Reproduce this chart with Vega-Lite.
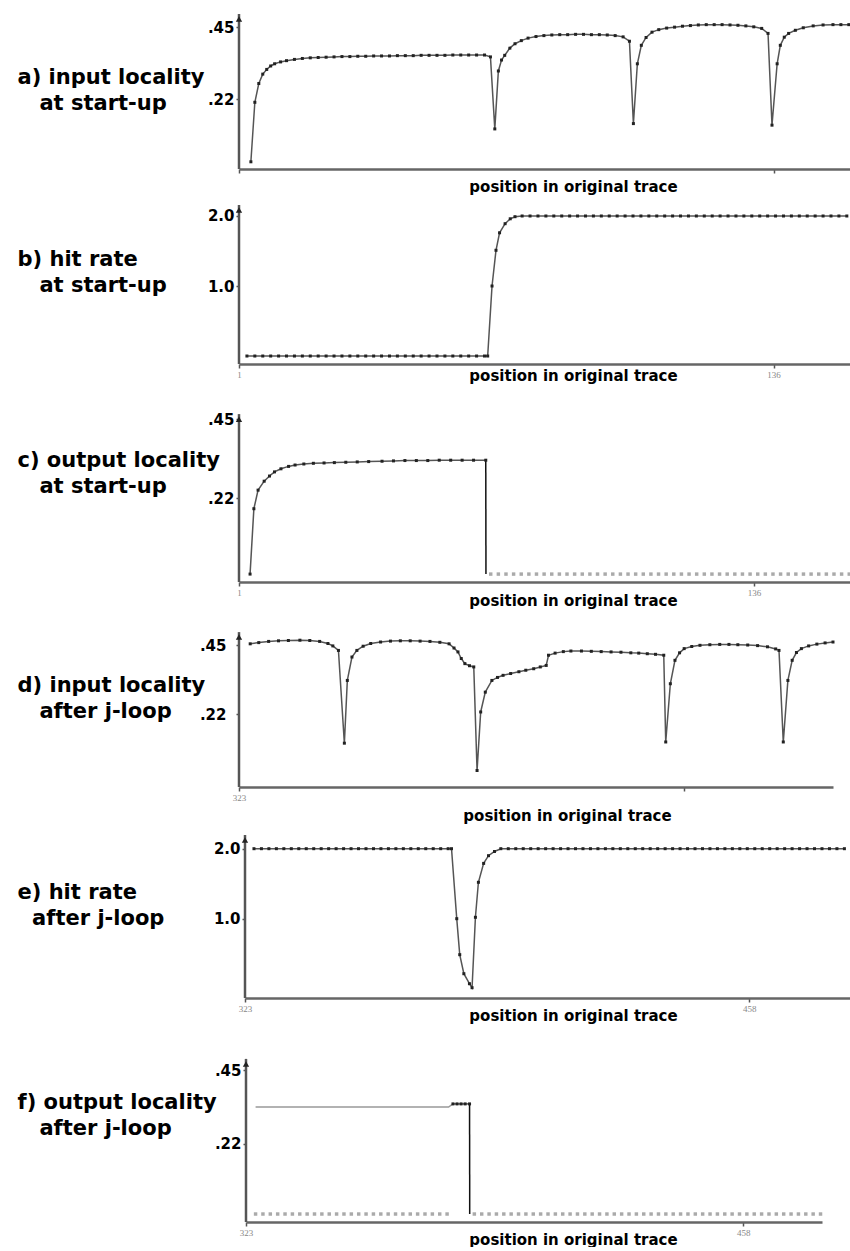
{
  "$schema": "https://vega.github.io/schema/vega-lite/v6.json",
  "padding": {"left": 17, "top": 12, "right": 0, "bottom": 0},
  "background": "white",
  "spacing": 36,
  "bounds": "flush",
  "resolve": {"scale": {"x": "independent", "y": "independent", "color": "independent"}},
  "config": {
    "view": {"stroke": null},
    "font": "DejaVu Sans",
    "axis": {"grid": false, "labelOverlap": false, "labelFlush": false},
    "axisX": {
      "domainColor": "#666", "domainWidth": 2.5,
      "tickColor": "#555", "tickSize": 4, "tickWidth": 1.5,
      "labelFont": "Liberation Serif", "labelFontSize": 9, "labelColor": "#888", "labelPadding": 2,
      "titleFont": "DejaVu Sans", "titleFontSize": 15, "titleFontWeight": "bold", "titleColor": "#000",
      "titleAlign": "center", "titleBaseline": "middle", "titleX": 334
    },
    "axisY": {
      "domain": false,
      "tickColor": "#555", "tickSize": 3, "tickWidth": 1.5,
      "labelFont": "DejaVu Sans", "labelFontSize": 15, "labelFontWeight": "bold", "labelColor": "#000", "labelPadding": 2,
      "titleAngle": 0, "titleAlign": "left", "titleBaseline": "middle",
      "titleFont": "DejaVu Sans", "titleFontSize": 21, "titleFontWeight": "bold", "titleColor": "#000",
      "titleLineHeight": 26, "titleX": -222
    }
  },
  "datasets": {
    "a": [
      {"x":4,"v":0.02,"s":"m"},{"x":5,"v":0.21,"s":"m"},{"x":6,"v":0.27,"s":"m"},{"x":7,"v":0.30,"s":"m"},
      {"x":8,"v":0.315,"s":"m"},{"x":9,"v":0.326,"s":"m"},{"x":10,"v":0.333,"s":"m"},{"x":11.5,"v":0.339,"s":"m"},
      {"x":13,"v":0.343,"s":"m"},{"x":15,"v":0.347,"s":"m"},{"x":17,"v":0.35,"s":"m"},{"x":19,"v":0.352,"s":"m"},
      {"x":21,"v":0.353,"s":"m"},{"x":23,"v":0.354,"s":"m"},{"x":25,"v":0.355,"s":"m"},{"x":27,"v":0.356,"s":"m"},
      {"x":29,"v":0.356,"s":"m"},{"x":31,"v":0.357,"s":"m"},{"x":33,"v":0.357,"s":"m"},{"x":35,"v":0.358,"s":"m"},
      {"x":37,"v":0.358,"s":"m"},{"x":39,"v":0.358,"s":"m"},{"x":41,"v":0.359,"s":"m"},{"x":43,"v":0.359,"s":"m"},
      {"x":45,"v":0.359,"s":"m"},{"x":47,"v":0.36,"s":"m"},{"x":49,"v":0.36,"s":"m"},{"x":51,"v":0.36,"s":"m"},
      {"x":53,"v":0.36,"s":"m"},{"x":55,"v":0.361,"s":"m"},{"x":57,"v":0.361,"s":"m"},{"x":59,"v":0.361,"s":"m"},
      {"x":61,"v":0.361,"s":"m"},{"x":63,"v":0.361,"s":"m"},{"x":64.5,"v":0.355,"s":"m"},{"x":65.6,"v":0.125,"s":"m"},
      {"x":66.5,"v":0.31,"s":"m"},{"x":67.3,"v":0.345,"s":"m"},{"x":68.1,"v":0.36,"s":"m"},{"x":69.4,"v":0.383,"s":"m"},
      {"x":70.7,"v":0.397,"s":"m"},{"x":72.3,"v":0.407,"s":"m"},{"x":74,"v":0.415,"s":"m"},{"x":76,"v":0.42,"s":"m"},
      {"x":78,"v":0.423,"s":"m"},{"x":80,"v":0.425,"s":"m"},{"x":82,"v":0.426,"s":"m"},{"x":84,"v":0.426,"s":"m"},
      {"x":86,"v":0.427,"s":"m"},{"x":88,"v":0.427,"s":"m"},{"x":90,"v":0.426,"s":"m"},{"x":92,"v":0.426,"s":"m"},
      {"x":94,"v":0.425,"s":"m"},{"x":96,"v":0.423,"s":"m"},{"x":98,"v":0.419,"s":"m"},{"x":99.6,"v":0.405,"s":"m"},
      {"x":100.6,"v":0.142,"s":"m"},{"x":101.6,"v":0.333,"s":"m"},{"x":102.6,"v":0.392,"s":"m"},{"x":103.8,"v":0.417,"s":"m"},
      {"x":105.3,"v":0.434,"s":"m"},{"x":107,"v":0.442,"s":"m"},{"x":109,"v":0.447,"s":"m"},{"x":111,"v":0.45,"s":"m"},
      {"x":113,"v":0.453,"s":"m"},{"x":115,"v":0.455,"s":"m"},{"x":117,"v":0.457,"s":"m"},{"x":119,"v":0.458,"s":"m"},
      {"x":121,"v":0.458,"s":"m"},{"x":123,"v":0.458,"s":"m"},{"x":125,"v":0.457,"s":"m"},{"x":127,"v":0.456,"s":"m"},
      {"x":129,"v":0.454,"s":"m"},{"x":131,"v":0.451,"s":"m"},{"x":133,"v":0.446,"s":"m"},{"x":134.6,"v":0.43,"s":"m"},
      {"x":135.6,"v":0.137,"s":"m"},{"x":136.9,"v":0.333,"s":"m"},{"x":137.7,"v":0.392,"s":"m"},{"x":138.7,"v":0.418,"s":"m"},
      {"x":139.8,"v":0.43,"s":"m"},{"x":141.5,"v":0.44,"s":"m"},{"x":143.5,"v":0.448,"s":"m"},{"x":146,"v":0.454,"s":"m"},
      {"x":148.5,"v":0.457,"s":"m"},{"x":151,"v":0.458,"s":"m"},{"x":153,"v":0.458,"s":"m"},{"x":155,"v":0.458,"s":"m"}
    ],
    "b": [
      {"x":3,"v":0,"s":"m"},{"x":5,"v":0,"s":"m"},{"x":7,"v":0,"s":"m"},{"x":9,"v":0,"s":"m"},{"x":11,"v":0,"s":"m"},
      {"x":13,"v":0,"s":"m"},{"x":15,"v":0,"s":"m"},{"x":17,"v":0,"s":"m"},{"x":19,"v":0,"s":"m"},{"x":21,"v":0,"s":"m"},
      {"x":23,"v":0,"s":"m"},{"x":25,"v":0,"s":"m"},{"x":27,"v":0,"s":"m"},{"x":29,"v":0,"s":"m"},{"x":31,"v":0,"s":"m"},
      {"x":33,"v":0,"s":"m"},{"x":35,"v":0,"s":"m"},{"x":37,"v":0,"s":"m"},{"x":39,"v":0,"s":"m"},{"x":41,"v":0,"s":"m"},
      {"x":43,"v":0,"s":"m"},{"x":45,"v":0,"s":"m"},{"x":47,"v":0,"s":"m"},{"x":49,"v":0,"s":"m"},{"x":51,"v":0,"s":"m"},
      {"x":53,"v":0,"s":"m"},{"x":55,"v":0,"s":"m"},{"x":57,"v":0,"s":"m"},{"x":59,"v":0,"s":"m"},{"x":61,"v":0,"s":"m"},
      {"x":63,"v":0,"s":"m"},{"x":63.8,"v":0,"s":"m"},{"x":64.9,"v":1.0,"s":"m"},{"x":65.9,"v":1.51,"s":"m"},
      {"x":66.8,"v":1.76,"s":"m"},{"x":68.2,"v":1.89,"s":"m"},{"x":69.5,"v":1.96,"s":"m"},{"x":70.7,"v":1.99,"s":"m"},
      {"x":72.5,"v":2.0,"s":"m"},{"x":74.5,"v":2.0,"s":"m"},{"x":76.5,"v":2.0,"s":"m"},{"x":78.5,"v":2.0,"s":"m"},
      {"x":80.5,"v":2.0,"s":"m"},{"x":82.5,"v":2.0,"s":"m"},{"x":84.5,"v":2.0,"s":"m"},{"x":86.5,"v":2.0,"s":"m"},
      {"x":88.5,"v":2.0,"s":"m"},{"x":90.5,"v":2.0,"s":"m"},{"x":92.5,"v":2.0,"s":"m"},{"x":94.5,"v":2.0,"s":"m"},
      {"x":96.5,"v":2.0,"s":"m"},{"x":98.5,"v":2.0,"s":"m"},{"x":100.5,"v":2.0,"s":"m"},{"x":102.5,"v":2.0,"s":"m"},
      {"x":104.5,"v":2.0,"s":"m"},{"x":106.5,"v":2.0,"s":"m"},{"x":108.5,"v":2.0,"s":"m"},{"x":110.5,"v":2.0,"s":"m"},
      {"x":112.5,"v":2.0,"s":"m"},{"x":114.5,"v":2.0,"s":"m"},{"x":116.5,"v":2.0,"s":"m"},{"x":118.5,"v":2.0,"s":"m"},
      {"x":120.5,"v":2.0,"s":"m"},{"x":122.5,"v":2.0,"s":"m"},{"x":124.5,"v":2.0,"s":"m"},{"x":126.5,"v":2.0,"s":"m"},
      {"x":128.5,"v":2.0,"s":"m"},{"x":130.5,"v":2.0,"s":"m"},{"x":132.5,"v":2.0,"s":"m"},{"x":134.5,"v":2.0,"s":"m"},
      {"x":136.5,"v":2.0,"s":"m"},{"x":138.5,"v":2.0,"s":"m"},{"x":140.5,"v":2.0,"s":"m"},{"x":142.5,"v":2.0,"s":"m"},
      {"x":144.5,"v":2.0,"s":"m"},{"x":146.5,"v":2.0,"s":"m"},{"x":148.5,"v":2.0,"s":"m"},{"x":150.5,"v":2.0,"s":"m"},
      {"x":152.5,"v":2.0,"s":"m"},{"x":154.5,"v":2.0,"s":"m"}
    ],
    "c": [
      {"x":3.9,"v":0,"s":"m"},{"x":4.9,"v":0.19,"s":"m"},{"x":6,"v":0.244,"s":"m"},{"x":7.6,"v":0.27,"s":"m"},
      {"x":9,"v":0.285,"s":"m"},{"x":10.3,"v":0.297,"s":"m"},{"x":12,"v":0.306,"s":"m"},{"x":14,"v":0.313,"s":"m"},
      {"x":15.7,"v":0.317,"s":"m"},{"x":18,"v":0.32,"s":"m"},{"x":20.5,"v":0.322,"s":"m"},{"x":23.3,"v":0.323,"s":"m"},
      {"x":26,"v":0.324,"s":"m"},{"x":29,"v":0.325,"s":"m"},{"x":32,"v":0.326,"s":"m"},{"x":35,"v":0.327,"s":"m"},
      {"x":38.5,"v":0.328,"s":"m"},{"x":41.5,"v":0.329,"s":"m"},{"x":44.5,"v":0.33,"s":"m"},{"x":47.5,"v":0.33,"s":"m"},
      {"x":50.5,"v":0.33,"s":"m"},{"x":53.5,"v":0.331,"s":"m"},{"x":56.5,"v":0.331,"s":"m"},{"x":59.5,"v":0.331,"s":"m"},
      {"x":62.5,"v":0.331,"s":"m"},{"x":65.7,"v":0.331,"s":"m"},
      {"x":65.7,"v":0.331,"s":"d"},{"x":65.75,"v":0,"s":"d"},
      {"x":67,"v":0,"s":"z"},{"x":69,"v":0,"s":"z"},{"x":71,"v":0,"s":"z"},{"x":73,"v":0,"s":"z"},{"x":75,"v":0,"s":"z"},
      {"x":77,"v":0,"s":"z"},{"x":79,"v":0,"s":"z"},{"x":81,"v":0,"s":"z"},{"x":83,"v":0,"s":"z"},{"x":85,"v":0,"s":"z"},
      {"x":87,"v":0,"s":"z"},{"x":89,"v":0,"s":"z"},{"x":91,"v":0,"s":"z"},{"x":93,"v":0,"s":"z"},{"x":95,"v":0,"s":"z"},
      {"x":97,"v":0,"s":"z"},{"x":99,"v":0,"s":"z"},{"x":101,"v":0,"s":"z"},{"x":103,"v":0,"s":"z"},{"x":105,"v":0,"s":"z"},
      {"x":107,"v":0,"s":"z"},{"x":109,"v":0,"s":"z"},{"x":111,"v":0,"s":"z"},{"x":113,"v":0,"s":"z"},{"x":115,"v":0,"s":"z"},
      {"x":117,"v":0,"s":"z"},{"x":119,"v":0,"s":"z"},{"x":121,"v":0,"s":"z"},{"x":123,"v":0,"s":"z"},{"x":125,"v":0,"s":"z"},
      {"x":127,"v":0,"s":"z"},{"x":129,"v":0,"s":"z"},{"x":131,"v":0,"s":"z"},{"x":133,"v":0,"s":"z"},{"x":135,"v":0,"s":"z"},
      {"x":137,"v":0,"s":"z"},{"x":139,"v":0,"s":"z"},{"x":141,"v":0,"s":"z"},{"x":143,"v":0,"s":"z"},{"x":145,"v":0,"s":"z"},
      {"x":147,"v":0,"s":"z"},{"x":149,"v":0,"s":"z"},{"x":151,"v":0,"s":"z"},{"x":153,"v":0,"s":"z"},{"x":155,"v":0,"s":"z"},
      {"x":157,"v":0,"s":"z"},{"x":159,"v":0,"s":"z"},{"x":161,"v":0,"s":"z"}
    ],
    "d": [
      {"x":326.4,"v":0.454,"s":"m"},{"x":329,"v":0.458,"s":"m"},{"x":332,"v":0.462,"s":"m"},{"x":335,"v":0.464,"s":"m"},
      {"x":338,"v":0.465,"s":"m"},{"x":341.5,"v":0.466,"s":"m"},{"x":344.5,"v":0.465,"s":"m"},{"x":347.5,"v":0.462,"s":"m"},
      {"x":350,"v":0.455,"s":"m"},{"x":351.5,"v":0.447,"s":"m"},{"x":353.2,"v":0.432,"s":"m"},{"x":355,"v":0.123,"s":"m"},
      {"x":355.9,"v":0.332,"s":"m"},{"x":357.3,"v":0.41,"s":"m"},{"x":358.8,"v":0.432,"s":"m"},{"x":360.7,"v":0.446,"s":"m"},
      {"x":363,"v":0.455,"s":"m"},{"x":366,"v":0.46,"s":"m"},{"x":369,"v":0.463,"s":"m"},{"x":372,"v":0.464,"s":"m"},
      {"x":375,"v":0.464,"s":"m"},{"x":378,"v":0.463,"s":"m"},{"x":381,"v":0.462,"s":"m"},{"x":384,"v":0.459,"s":"m"},
      {"x":386.8,"v":0.454,"s":"m"},{"x":388.3,"v":0.44,"s":"m"},{"x":389.5,"v":0.427,"s":"m"},{"x":390.5,"v":0.405,"s":"m"},
      {"x":391.6,"v":0.388,"s":"m"},{"x":393,"v":0.381,"s":"m"},{"x":394.3,"v":0.377,"s":"m"},{"x":395.3,"v":0.032,"s":"m"},
      {"x":396.4,"v":0.227,"s":"m"},{"x":397.8,"v":0.293,"s":"m"},{"x":399.8,"v":0.332,"s":"m"},{"x":401.5,"v":0.342,"s":"m"},
      {"x":403.2,"v":0.349,"s":"m"},{"x":405.5,"v":0.355,"s":"m"},{"x":408,"v":0.361,"s":"m"},{"x":410.1,"v":0.366,"s":"m"},
      {"x":412.5,"v":0.371,"s":"m"},{"x":414.5,"v":0.377,"s":"m"},{"x":416.3,"v":0.382,"s":"m"},{"x":417,"v":0.416,"s":"m"},
      {"x":419,"v":0.423,"s":"m"},{"x":421.5,"v":0.428,"s":"m"},{"x":423.8,"v":0.43,"s":"m"},{"x":427,"v":0.43,"s":"m"},
      {"x":430,"v":0.429,"s":"m"},{"x":433,"v":0.428,"s":"m"},{"x":436,"v":0.427,"s":"m"},{"x":439,"v":0.426,"s":"m"},
      {"x":442,"v":0.424,"s":"m"},{"x":444.4,"v":0.423,"s":"m"},{"x":447,"v":0.421,"s":"m"},{"x":449.5,"v":0.419,"s":"m"},
      {"x":452,"v":0.416,"s":"m"},{"x":452.6,"v":0.127,"s":"m"},{"x":454,"v":0.321,"s":"m"},{"x":455.4,"v":0.399,"s":"m"},
      {"x":456.8,"v":0.424,"s":"m"},{"x":458.2,"v":0.438,"s":"m"},{"x":460.5,"v":0.445,"s":"m"},{"x":463,"v":0.449,"s":"m"},
      {"x":466,"v":0.451,"s":"m"},{"x":469,"v":0.452,"s":"m"},{"x":471.8,"v":0.452,"s":"m"},{"x":474.5,"v":0.451,"s":"m"},
      {"x":477.5,"v":0.45,"s":"m"},{"x":480.5,"v":0.448,"s":"m"},{"x":483.5,"v":0.444,"s":"m"},{"x":486,"v":0.437,"s":"m"},
      {"x":487,"v":0.432,"s":"m"},{"x":488.3,"v":0.127,"s":"m"},{"x":489.7,"v":0.332,"s":"m"},{"x":491,"v":0.399,"s":"m"},
      {"x":492.3,"v":0.425,"s":"m"},{"x":493.8,"v":0.438,"s":"m"},{"x":496,"v":0.447,"s":"m"},{"x":498.5,"v":0.453,"s":"m"},
      {"x":501,"v":0.457,"s":"m"},{"x":503.4,"v":0.46,"s":"m"}
    ],
    "e": [
      {"x":325.4,"v":2,"s":"m"},{"x":327.4,"v":2,"s":"m"},{"x":329.4,"v":2,"s":"m"},{"x":331.4,"v":2,"s":"m"},
      {"x":333.4,"v":2,"s":"m"},{"x":335.4,"v":2,"s":"m"},{"x":337.4,"v":2,"s":"m"},{"x":339.4,"v":2,"s":"m"},
      {"x":341.4,"v":2,"s":"m"},{"x":343.4,"v":2,"s":"m"},{"x":345.4,"v":2,"s":"m"},{"x":347.4,"v":2,"s":"m"},
      {"x":349.4,"v":2,"s":"m"},{"x":351.4,"v":2,"s":"m"},{"x":353.4,"v":2,"s":"m"},{"x":355.4,"v":2,"s":"m"},
      {"x":357.4,"v":2,"s":"m"},{"x":359.4,"v":2,"s":"m"},{"x":361.4,"v":2,"s":"m"},{"x":363.4,"v":2,"s":"m"},
      {"x":365.4,"v":2,"s":"m"},{"x":367.4,"v":2,"s":"m"},{"x":369.4,"v":2,"s":"m"},{"x":371.4,"v":2,"s":"m"},
      {"x":373.4,"v":2,"s":"m"},{"x":375.4,"v":2,"s":"m"},{"x":377.4,"v":2,"s":"m"},{"x":378.3,"v":2,"s":"m"},
      {"x":379.7,"v":1.0,"s":"m"},{"x":380.5,"v":0.486,"s":"m"},{"x":381.6,"v":0.214,"s":"m"},{"x":383.1,"v":0.071,"s":"m"},
      {"x":383.8,"v":0.014,"s":"m"},{"x":384.7,"v":1.02,"s":"m"},{"x":385.5,"v":1.52,"s":"m"},{"x":386.9,"v":1.79,"s":"m"},
      {"x":388.2,"v":1.9,"s":"m"},{"x":389.8,"v":1.96,"s":"m"},{"x":391.5,"v":2,"s":"m"},{"x":393.5,"v":2,"s":"m"},
      {"x":395.5,"v":2,"s":"m"},{"x":397.5,"v":2,"s":"m"},{"x":399.5,"v":2,"s":"m"},{"x":401.5,"v":2,"s":"m"},
      {"x":403.5,"v":2,"s":"m"},{"x":405.5,"v":2,"s":"m"},{"x":407.5,"v":2,"s":"m"},{"x":409.5,"v":2,"s":"m"},
      {"x":411.5,"v":2,"s":"m"},{"x":413.5,"v":2,"s":"m"},{"x":415.5,"v":2,"s":"m"},{"x":417.5,"v":2,"s":"m"},
      {"x":419.5,"v":2,"s":"m"},{"x":421.5,"v":2,"s":"m"},{"x":423.5,"v":2,"s":"m"},{"x":425.5,"v":2,"s":"m"},
      {"x":427.5,"v":2,"s":"m"},{"x":429.5,"v":2,"s":"m"},{"x":431.5,"v":2,"s":"m"},{"x":433.5,"v":2,"s":"m"},
      {"x":435.5,"v":2,"s":"m"},{"x":437.5,"v":2,"s":"m"},{"x":439.5,"v":2,"s":"m"},{"x":441.5,"v":2,"s":"m"},
      {"x":443.5,"v":2,"s":"m"},{"x":445.5,"v":2,"s":"m"},{"x":447.5,"v":2,"s":"m"},{"x":449.5,"v":2,"s":"m"},
      {"x":451.5,"v":2,"s":"m"},{"x":453.5,"v":2,"s":"m"},{"x":455.5,"v":2,"s":"m"},{"x":457.5,"v":2,"s":"m"},
      {"x":459.5,"v":2,"s":"m"},{"x":461.5,"v":2,"s":"m"},{"x":463.5,"v":2,"s":"m"},{"x":465.5,"v":2,"s":"m"},
      {"x":467.5,"v":2,"s":"m"},{"x":469.5,"v":2,"s":"m"},{"x":471.5,"v":2,"s":"m"},{"x":473.5,"v":2,"s":"m"},
      {"x":475.5,"v":2,"s":"m"},{"x":477.5,"v":2,"s":"m"},{"x":479.5,"v":2,"s":"m"},{"x":481.5,"v":2,"s":"m"},
      {"x":483.5,"v":2,"s":"m"}
    ],
    "f": [
      {"x":325.6,"v":0.335,"s":"p"},{"x":378,"v":0.335,"s":"p"},{"x":379.2,"v":0.345,"s":"p"},
      {"x":379.2,"v":0.345,"s":"m"},{"x":380.3,"v":0.345,"s":"m"},{"x":381.4,"v":0.345,"s":"m"},{"x":382.5,"v":0.345,"s":"m"},{"x":383.7,"v":0.345,"s":"m"},
      {"x":383.7,"v":0.345,"s":"d"},{"x":383.75,"v":0,"s":"d"},
      {"x":325.6,"v":0,"s":"z"},{"x":327.6,"v":0,"s":"z"},{"x":329.6,"v":0,"s":"z"},{"x":331.6,"v":0,"s":"z"},
      {"x":333.6,"v":0,"s":"z"},{"x":335.6,"v":0,"s":"z"},{"x":337.6,"v":0,"s":"z"},{"x":339.6,"v":0,"s":"z"},
      {"x":341.6,"v":0,"s":"z"},{"x":343.6,"v":0,"s":"z"},{"x":345.6,"v":0,"s":"z"},{"x":347.6,"v":0,"s":"z"},
      {"x":349.6,"v":0,"s":"z"},{"x":351.6,"v":0,"s":"z"},{"x":353.6,"v":0,"s":"z"},{"x":355.6,"v":0,"s":"z"},
      {"x":357.6,"v":0,"s":"z"},{"x":359.6,"v":0,"s":"z"},{"x":361.6,"v":0,"s":"z"},{"x":363.6,"v":0,"s":"z"},
      {"x":365.6,"v":0,"s":"z"},{"x":367.6,"v":0,"s":"z"},{"x":369.6,"v":0,"s":"z"},{"x":371.6,"v":0,"s":"z"},
      {"x":373.6,"v":0,"s":"z"},{"x":375.6,"v":0,"s":"z"},{"x":377.6,"v":0,"s":"z"},
      {"x":385,"v":0,"s":"z"},{"x":387,"v":0,"s":"z"},{"x":389,"v":0,"s":"z"},{"x":391,"v":0,"s":"z"},{"x":393,"v":0,"s":"z"},
      {"x":395,"v":0,"s":"z"},{"x":397,"v":0,"s":"z"},{"x":399,"v":0,"s":"z"},{"x":401,"v":0,"s":"z"},{"x":403,"v":0,"s":"z"},
      {"x":405,"v":0,"s":"z"},{"x":407,"v":0,"s":"z"},{"x":409,"v":0,"s":"z"},{"x":411,"v":0,"s":"z"},{"x":413,"v":0,"s":"z"},
      {"x":415,"v":0,"s":"z"},{"x":417,"v":0,"s":"z"},{"x":419,"v":0,"s":"z"},{"x":421,"v":0,"s":"z"},{"x":423,"v":0,"s":"z"},
      {"x":425,"v":0,"s":"z"},{"x":427,"v":0,"s":"z"},{"x":429,"v":0,"s":"z"},{"x":431,"v":0,"s":"z"},{"x":433,"v":0,"s":"z"},
      {"x":435,"v":0,"s":"z"},{"x":437,"v":0,"s":"z"},{"x":439,"v":0,"s":"z"},{"x":441,"v":0,"s":"z"},{"x":443,"v":0,"s":"z"},
      {"x":445,"v":0,"s":"z"},{"x":447,"v":0,"s":"z"},{"x":449,"v":0,"s":"z"},{"x":451,"v":0,"s":"z"},{"x":453,"v":0,"s":"z"},
      {"x":455,"v":0,"s":"z"},{"x":457,"v":0,"s":"z"},{"x":459,"v":0,"s":"z"},{"x":461,"v":0,"s":"z"},{"x":463,"v":0,"s":"z"},
      {"x":465,"v":0,"s":"z"},{"x":467,"v":0,"s":"z"},{"x":469,"v":0,"s":"z"},{"x":471,"v":0,"s":"z"},{"x":473,"v":0,"s":"z"},
      {"x":475,"v":0,"s":"z"},{"x":477,"v":0,"s":"z"},{"x":479,"v":0,"s":"z"}
    ]
  },
  "vconcat": [
    {
      "width": 611, "height": 155,
      "layer": [
        {"data": {"values": [{"k": 1}]}, "mark": {"type": "rule", "color": "#555", "strokeWidth": 2.5},
         "encoding": {"x": {"datum": 1, "type": "quantitative", "scale": {"domain": [1, 155.3], "nice": false, "zero": false}},
                      "y": {"datum": -0.003, "type": "quantitative", "scale": {"domain": [-0.003, 0.492], "nice": false, "zero": false}},
                      "y2": {"datum": 0.492}}},
        {"data": {"values": [{"k": 1}]}, "mark": {"type": "point", "shape": "triangle-up", "filled": true, "size": 40, "color": "#222", "opacity": 1},
         "encoding": {"x": {"datum": 1, "type": "quantitative", "scale": {"domain": [1, 155.3], "nice": false, "zero": false}},
                      "y": {"datum": 0.476, "type": "quantitative", "scale": {"domain": [-0.003, 0.492], "nice": false, "zero": false}}}},
        {
          "data": {"name": "a"},
          "encoding": {
            "x": {"field": "x", "type": "quantitative", "scale": {"domain": [1, 155.3], "nice": false, "zero": false},
                  "axis": {"values": [1, 136], "labels": false, "title": "position in original trace", "titleY": 17}},
            "y": {"field": "v", "type": "quantitative", "scale": {"domain": [-0.003, 0.492], "nice": false, "zero": false},
                  "axis": {"values": [0.22, 0.45], "labelExpr": "replace(format(datum.value, '.2f'), '0.', '.')",
                           "title": ["a) input locality", "\u200b\u00a0\u00a0\u00a0at start-up"], "titleY": 63}}
          },
          "layer": [
            {"transform": [{"filter": "datum.s != 'z'"}], "mark": {"type": "line", "strokeWidth": 1.5},
             "encoding": {"color": {"field": "s", "type": "nominal", "scale": {"domain": ["m", "p", "d"], "range": ["#555", "#999", "#111"]}, "legend": null}}},
            {"transform": [{"filter": "datum.s == 'm'"}], "mark": {"type": "point", "shape": "square", "filled": true, "size": 9, "color": "#222", "opacity": 1}, "encoding": {}},
            {"transform": [{"filter": "datum.s == 'z'"}], "mark": {"type": "point", "shape": "square", "filled": true, "size": 12, "color": "#aaa", "opacity": 1}, "encoding": {}}
          ]
        }
      ]
    },
    {
      "width": 611, "height": 159,
      "layer": [
        {"data": {"values": [{"k": 1}]}, "mark": {"type": "rule", "color": "#555", "strokeWidth": 2.5},
         "encoding": {"x": {"datum": 1, "type": "quantitative", "scale": {"domain": [1, 155.3], "nice": false, "zero": false}},
                      "y": {"datum": -0.114, "type": "quantitative", "scale": {"domain": [-0.114, 2.157], "nice": false, "zero": false}},
                      "y2": {"datum": 2.157}}},
        {"data": {"values": [{"k": 1}]}, "mark": {"type": "point", "shape": "triangle-up", "filled": true, "size": 40, "color": "#222", "opacity": 1},
         "encoding": {"x": {"datum": 1, "type": "quantitative", "scale": {"domain": [1, 155.3], "nice": false, "zero": false}},
                      "y": {"datum": 2.086, "type": "quantitative", "scale": {"domain": [-0.114, 2.157], "nice": false, "zero": false}}}},
        {
          "data": {"name": "b"},
          "encoding": {
            "x": {"field": "x", "type": "quantitative", "scale": {"domain": [1, 155.3], "nice": false, "zero": false},
                  "axis": {"values": [1, 136], "title": "position in original trace", "titleY": 11}},
            "y": {"field": "v", "type": "quantitative", "scale": {"domain": [-0.114, 2.157], "nice": false, "zero": false},
                  "axis": {"values": [1, 2], "format": ".1f",
                           "title": ["b) hit rate", "\u200b\u00a0\u00a0\u00a0at start-up"], "titleY": 54}}
          },
          "layer": [
            {"transform": [{"filter": "datum.s != 'z'"}], "mark": {"type": "line", "strokeWidth": 1.5},
             "encoding": {"color": {"field": "s", "type": "nominal", "scale": {"domain": ["m", "p", "d"], "range": ["#555", "#999", "#111"]}, "legend": null}}},
            {"transform": [{"filter": "datum.s == 'm'"}], "mark": {"type": "point", "shape": "square", "filled": true, "size": 9, "color": "#222", "opacity": 1}, "encoding": {}},
            {"transform": [{"filter": "datum.s == 'z'"}], "mark": {"type": "point", "shape": "square", "filled": true, "size": 12, "color": "#aaa", "opacity": 1}, "encoding": {}}
          ]
        }
      ]
    },
    {
      "width": 611, "height": 182,
      "layer": [
        {"data": {"values": [{"k": 1}]}, "mark": {"type": "rule", "color": "#555", "strokeWidth": 2.5},
         "encoding": {"x": {"datum": 1, "type": "quantitative", "scale": {"domain": [1, 161.2], "nice": false, "zero": false}},
                      "y": {"datum": -0.023, "type": "quantitative", "scale": {"domain": [-0.023, 0.506], "nice": false, "zero": false}},
                      "y2": {"datum": 0.465}}},
        {"data": {"values": [{"k": 1}]}, "mark": {"type": "point", "shape": "triangle-up", "filled": true, "size": 40, "color": "#222", "opacity": 1},
         "encoding": {"x": {"datum": 1, "type": "quantitative", "scale": {"domain": [1, 161.2], "nice": false, "zero": false}},
                      "y": {"datum": 0.45, "type": "quantitative", "scale": {"domain": [-0.023, 0.506], "nice": false, "zero": false}}}},
        {
          "data": {"name": "c"},
          "encoding": {
            "x": {"field": "x", "type": "quantitative", "scale": {"domain": [1, 161.2], "nice": false, "zero": false},
                  "axis": {"values": [1, 136], "title": "position in original trace", "titleY": 18}},
            "y": {"field": "v", "type": "quantitative", "scale": {"domain": [-0.023, 0.506], "nice": false, "zero": false},
                  "axis": {"values": [0.22, 0.45], "labelExpr": "replace(format(datum.value, '.2f'), '0.', '.')",
                           "title": ["c) output locality", "\u200b\u00a0\u00a0\u00a0at start-up"], "titleY": 60}}
          },
          "layer": [
            {"transform": [{"filter": "datum.s != 'z'"}], "mark": {"type": "line", "strokeWidth": 1.5},
             "encoding": {"color": {"field": "s", "type": "nominal", "scale": {"domain": ["m", "p", "d"], "range": ["#555", "#999", "#111"]}, "legend": null}}},
            {"transform": [{"filter": "datum.s == 'm'"}], "mark": {"type": "point", "shape": "square", "filled": true, "size": 9, "color": "#222", "opacity": 1}, "encoding": {}},
            {"transform": [{"filter": "datum.s == 'z'"}], "mark": {"type": "point", "shape": "square", "filled": true, "size": 12, "color": "#aaa", "opacity": 1}, "encoding": {}}
          ]
        }
      ]
    },
    {
      "width": 594, "height": 169,
      "layer": [
        {"data": {"values": [{"k": 1}]}, "mark": {"type": "rule", "color": "#555", "strokeWidth": 2.5},
         "encoding": {"x": {"datum": 323, "type": "quantitative", "scale": {"domain": [323, 503.4], "nice": false, "zero": false}},
                      "y": {"datum": -0.023, "type": "quantitative", "scale": {"domain": [-0.023, 0.54], "nice": false, "zero": false}},
                      "y2": {"datum": 0.493}}},
        {"data": {"values": [{"k": 1}]}, "mark": {"type": "point", "shape": "triangle-up", "filled": true, "size": 40, "color": "#222", "opacity": 1},
         "encoding": {"x": {"datum": 323, "type": "quantitative", "scale": {"domain": [323, 503.4], "nice": false, "zero": false}},
                      "y": {"datum": 0.477, "type": "quantitative", "scale": {"domain": [-0.023, 0.54], "nice": false, "zero": false}}}},
        {
          "data": {"name": "d"},
          "encoding": {
            "x": {"field": "x", "type": "quantitative", "scale": {"domain": [323, 503.4], "nice": false, "zero": false},
                  "axis": {"values": [323, 458], "labelExpr": "datum.value == 323 ? '323' : ''", "title": "position in original trace", "titleY": 28, "titleX": 328}},
            "y": {"field": "v", "type": "quantitative", "scale": {"domain": [-0.023, 0.54], "nice": false, "zero": false},
                  "axis": {"values": [0.22, 0.45], "labelExpr": "replace(format(datum.value, '.2f'), '0.', '.')", "labelPadding": 10,
                           "title": ["d) input locality", "\u200b\u00a0\u00a0\u00a0after j-loop"], "titleY": 67}}
          },
          "layer": [
            {"transform": [{"filter": "datum.s != 'z'"}], "mark": {"type": "line", "strokeWidth": 1.5},
             "encoding": {"color": {"field": "s", "type": "nominal", "scale": {"domain": ["m", "p", "d"], "range": ["#555", "#999", "#111"]}, "legend": null}}},
            {"transform": [{"filter": "datum.s == 'm'"}], "mark": {"type": "point", "shape": "square", "filled": true, "size": 9, "color": "#222", "opacity": 1}, "encoding": {}},
            {"transform": [{"filter": "datum.s == 'z'"}], "mark": {"type": "point", "shape": "square", "filled": true, "size": 12, "color": "#aaa", "opacity": 1}, "encoding": {}}
          ]
        }
      ]
    },
    {
      "width": 611, "height": 175,
      "layer": [
        {"data": {"values": [{"k": 1}]}, "mark": {"type": "rule", "color": "#555", "strokeWidth": 2.5},
         "encoding": {"x": {"datum": 323, "type": "quantitative", "scale": {"domain": [323, 485], "range": [6, 611], "nice": false, "zero": false}},
                      "y": {"datum": -0.133, "type": "quantitative", "scale": {"domain": [-0.133, 2.367], "nice": false, "zero": false}},
                      "y2": {"datum": 2.196}}},
        {"data": {"values": [{"k": 1}]}, "mark": {"type": "point", "shape": "triangle-up", "filled": true, "size": 40, "color": "#222", "opacity": 1},
         "encoding": {"x": {"datum": 323, "type": "quantitative", "scale": {"domain": [323, 485], "range": [6, 611], "nice": false, "zero": false}},
                      "y": {"datum": 2.124, "type": "quantitative", "scale": {"domain": [-0.133, 2.367], "nice": false, "zero": false}}}},
        {
          "data": {"name": "e"},
          "encoding": {
            "x": {"field": "x", "type": "quantitative", "scale": {"domain": [323, 485], "range": [6, 611], "nice": false, "zero": false},
                  "axis": {"values": [323, 458], "title": "position in original trace", "titleY": 17}},
            "y": {"field": "v", "type": "quantitative", "scale": {"domain": [-0.133, 2.367], "nice": false, "zero": false},
                  "axis": {"values": [1, 2], "format": ".1f", "offset": -6, "titleX": -228,
                           "title": ["e) hit rate", "\u200b\u00a0\u00a0after j-loop"], "titleY": 69}}
          },
          "layer": [
            {"transform": [{"filter": "datum.s != 'z'"}], "mark": {"type": "line", "strokeWidth": 1.5},
             "encoding": {"color": {"field": "s", "type": "nominal", "scale": {"domain": ["m", "p", "d"], "range": ["#555", "#999", "#111"]}, "legend": null}}},
            {"transform": [{"filter": "datum.s == 'm'"}], "mark": {"type": "point", "shape": "square", "filled": true, "size": 9, "color": "#222", "opacity": 1}, "encoding": {}},
            {"transform": [{"filter": "datum.s == 'z'"}], "mark": {"type": "point", "shape": "square", "filled": true, "size": 12, "color": "#aaa", "opacity": 1}, "encoding": {}}
          ]
        }
      ]
    },
    {
      "width": 583, "height": 188,
      "layer": [
        {"data": {"values": [{"k": 1}]}, "mark": {"type": "rule", "color": "#555", "strokeWidth": 2.5},
         "encoding": {"x": {"datum": 323, "type": "quantitative", "scale": {"domain": [323, 479.4], "range": [7, 583], "nice": false, "zero": false}},
                      "y": {"datum": -0.025, "type": "quantitative", "scale": {"domain": [-0.025, 0.564], "nice": false, "zero": false}},
                      "y2": {"datum": 0.486}}},
        {"data": {"values": [{"k": 1}]}, "mark": {"type": "point", "shape": "triangle-up", "filled": true, "size": 40, "color": "#222", "opacity": 1},
         "encoding": {"x": {"datum": 323, "type": "quantitative", "scale": {"domain": [323, 479.4], "range": [7, 583], "nice": false, "zero": false}},
                      "y": {"datum": 0.47, "type": "quantitative", "scale": {"domain": [-0.025, 0.564], "nice": false, "zero": false}}}},
        {
          "data": {"name": "f"},
          "encoding": {
            "x": {"field": "x", "type": "quantitative", "scale": {"domain": [323, 479.4], "range": [7, 583], "nice": false, "zero": false},
                  "axis": {"values": [323, 458], "title": "position in original trace", "titleY": 17}},
            "y": {"field": "v", "type": "quantitative", "scale": {"domain": [-0.025, 0.564], "nice": false, "zero": false},
                  "axis": {"values": [0.22, 0.45], "labelExpr": "replace(format(datum.value, '.2f'), '0.', '.')", "offset": -7, "titleX": -229,
                           "title": ["f) output locality", "\u200b\u00a0\u00a0\u00a0after j-loop"], "titleY": 68}}
          },
          "layer": [
            {"transform": [{"filter": "datum.s != 'z'"}], "mark": {"type": "line", "strokeWidth": 1.5},
             "encoding": {"color": {"field": "s", "type": "nominal", "scale": {"domain": ["m", "p", "d"], "range": ["#555", "#999", "#111"]}, "legend": null}}},
            {"transform": [{"filter": "datum.s == 'm'"}], "mark": {"type": "point", "shape": "square", "filled": true, "size": 9, "color": "#222", "opacity": 1}, "encoding": {}},
            {"transform": [{"filter": "datum.s == 'z'"}], "mark": {"type": "point", "shape": "square", "filled": true, "size": 12, "color": "#aaa", "opacity": 1}, "encoding": {}}
          ]
        }
      ]
    }
  ]
}
